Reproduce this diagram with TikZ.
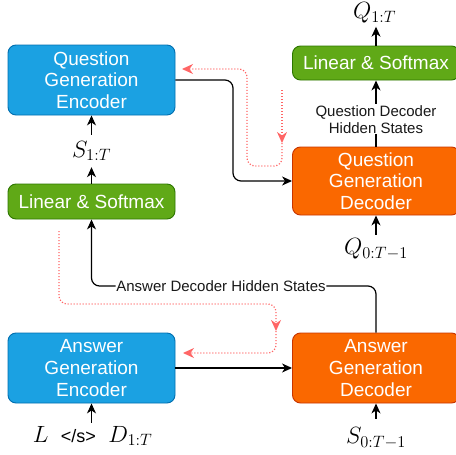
\RequirePackage{fix-cm}
\documentclass[tikz,border=0pt]{standalone}
\usepackage[no-math]{fontspec}
\setmainfont{Liberation Sans}
\usetikzlibrary{arrows.meta}
\definecolor{bfill}{HTML}{1BA1E2}
\definecolor{bdraw}{HTML}{006EAF}
\definecolor{gfill}{HTML}{60A917}
\definecolor{gdraw}{HTML}{2D7600}
\definecolor{ofill}{HTML}{FA6800}
\definecolor{odraw}{HTML}{C73500}
\definecolor{rline}{HTML}{FF6666}
\begin{document}
\begin{tikzpicture}[x=1pt,y=-1pt,
  box/.style={rectangle, rounded corners=8pt, minimum width=167pt, line width=0.9pt, text=white, align=center, inner sep=0pt, font=\fontsize{19}{21.7}\selectfont},
  enc/.style={box, fill=bfill, draw=bdraw, minimum height=70pt},
  dec/.style={box, fill=ofill, draw=odraw, minimum height=70pt},
  lin/.style={box, fill=gfill, draw=gdraw, minimum height=35pt},
  arr/.style={line width=1.2pt, -{Stealth[length=10pt,width=9pt,inset=3pt]}},
  conn/.style={line width=1.2pt},
  redline/.style={rline, line width=1.2pt, dash pattern=on 1.2pt off 1.8pt},
  redarr/.style={redline, -{Stealth[length=11pt,width=10pt,inset=3.5pt]}},
  mathlbl/.style={inner sep=0pt, font=\fontsize{23.5}{27}\selectfont},
  smalllbl/.style={font=\fontsize{15}{17}\selectfont, text=black!90, align=center, fill=white, inner sep=1pt}]

\useasboundingbox (0,0) rectangle (456,455);
\clip (0,0) rectangle (456,455);

% boxes
\node[enc] (qge) at (91.5,80) {Question\\Generation\\Encoder};
\node[lin] (ls1) at (91.5,201.5) {Linear \& Softmax};
\node[mathlbl, minimum height=32pt] (s1t) at (91.5,151) {$S_{1:T}$};
\node[lin, minimum height=34pt] (ls2) at (376,63) {Linear \& Softmax};
\node[dec, minimum height=68pt] (qgd) at (376,181) {Question\\Generation\\Decoder};
\node[mathlbl, minimum height=27pt] (q1t) at (374.5,13) {$Q_{1:T}$};
\node[mathlbl, minimum height=28pt] (q0t) at (376,249) {$Q_{0:T-1}$};
\node[enc] (age) at (91.5,368) {Answer\\Generation\\Encoder};
\node[dec] (agd) at (376,368) {Answer\\Generation\\Decoder};
\node[mathlbl, minimum height=26pt] (inp) at (92.5,436) {$L$\hspace{12.5pt}{\fontsize{18}{21}\selectfont </s>}\hspace{12.5pt}$D_{1:T}$};
\node[mathlbl, minimum height=38pt] (s0t) at (376,438) {$S_{0:T-1}$};
\node[smalllbl, inner sep=0.5pt] (adh) at (221,286) {Answer Decoder Hidden States};

% black connectors
\draw[arr] (ls1) -- (s1t);
\draw[arr] (s1t) -- (qge);
\draw[arr] (ls2.north) -- (q1t.south -| ls2.north);
\draw[arr] (q0t) -- (qgd);
\draw[arr] (inp.north -| age.south) -- (age);
\draw[arr] (s0t) -- (agd);
\draw[arr] (age) -- (agd);
\draw[arr] (qgd) -- node[smalllbl, pos=0.41] {Question Decoder\\Hidden States} (ls2);
\draw[arr, rounded corners=8pt] (qge.east) -| (233,130) |- (qgd.west);
\draw[conn, rounded corners=8pt] (agd.north) |- (adh.east);
\draw[arr, rounded corners=8pt] (adh.west) -| (ls1.south);

% red dotted connectors
\coordinate (r1s) at (282,90);
\coordinate (r1m) at (282,143);
\coordinate (r1e) at (182,69);
\draw[redarr] (r1s) -- (r1m);
\draw[redarr, rounded corners=8pt] (r1m) -- (282,166) -- (247,166) -- (247,69) -- (r1e);
\coordinate (r2s) at (59,231);
\coordinate (r2m) at (276,331);
\coordinate (r2e) at (183,353);
\draw[redarr, rounded corners=8pt] (r2s) -- (59,304) -- (276,304) -- (r2m);
\draw[redarr, rounded corners=8pt] (r2m) -- (276,353) -- (r2e);
\end{tikzpicture}
\end{document}
